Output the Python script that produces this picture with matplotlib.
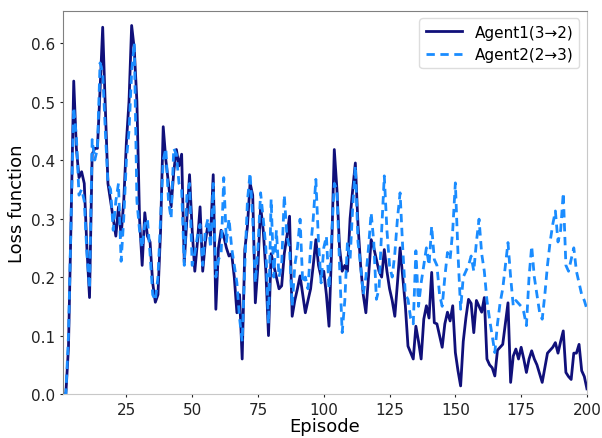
import matplotlib.pyplot as plt
import numpy as np

# Loss per episode
agent1 = [0.0, 0.0, 0.08, 0.30, 0.535, 0.42, 0.37, 0.38, 0.36, 0.25,
          0.165, 0.41, 0.42, 0.42, 0.52, 0.627, 0.49, 0.36, 0.33, 0.30,
          0.27, 0.32, 0.27, 0.33, 0.43, 0.50, 0.63, 0.59, 0.50, 0.30,
          0.22, 0.31, 0.27, 0.26, 0.19, 0.157, 0.17, 0.28, 0.457, 0.40,
          0.36, 0.32, 0.38, 0.418, 0.39, 0.41, 0.225, 0.30, 0.375, 0.28,
          0.21, 0.26, 0.32, 0.21, 0.26, 0.29, 0.27, 0.375, 0.145, 0.25,
          0.28, 0.27, 0.25, 0.236, 0.24, 0.20, 0.139, 0.17, 0.06, 0.247,
          0.287, 0.361, 0.34, 0.156, 0.22, 0.321, 0.28, 0.21, 0.10, 0.24,
          0.22, 0.20, 0.18, 0.185, 0.24, 0.27, 0.304, 0.133, 0.16, 0.18,
          0.202, 0.17, 0.139, 0.16, 0.18, 0.22, 0.264, 0.22, 0.20, 0.21,
          0.17, 0.116, 0.25, 0.418, 0.35, 0.25, 0.21, 0.22, 0.21, 0.30,
          0.35, 0.395, 0.29, 0.22, 0.17, 0.139, 0.20, 0.264, 0.25, 0.23,
          0.21, 0.20, 0.247, 0.21, 0.18, 0.16, 0.133, 0.19, 0.25, 0.20,
          0.151, 0.082, 0.071, 0.06, 0.116, 0.09, 0.06, 0.128, 0.151, 0.13,
          0.208, 0.122, 0.12, 0.10, 0.08, 0.12, 0.14, 0.125, 0.151, 0.071,
          0.04, 0.014, 0.09, 0.13, 0.162, 0.155, 0.105, 0.16, 0.15, 0.14,
          0.165, 0.06, 0.05, 0.045, 0.031, 0.075, 0.08, 0.085, 0.12, 0.156,
          0.02, 0.065, 0.077, 0.06, 0.08, 0.06, 0.037, 0.06, 0.074, 0.06,
          0.05, 0.035, 0.02, 0.045, 0.07, 0.075, 0.08, 0.088, 0.07, 0.09,
          0.108, 0.037, 0.03, 0.025, 0.07, 0.07, 0.085, 0.04, 0.03, 0.009]

agent2 = [0.0, 0.0, 0.10, 0.30, 0.49, 0.44, 0.34, 0.35, 0.33, 0.24,
          0.18, 0.435, 0.40, 0.42, 0.566, 0.55, 0.45, 0.36, 0.35, 0.28,
          0.33, 0.36, 0.227, 0.30, 0.40, 0.45, 0.55, 0.60, 0.33, 0.28,
          0.25, 0.29, 0.30, 0.24, 0.17, 0.16, 0.20, 0.30, 0.40, 0.42,
          0.33, 0.30, 0.42, 0.41, 0.36, 0.35, 0.22, 0.34, 0.36, 0.22,
          0.24, 0.27, 0.29, 0.22, 0.28, 0.30, 0.25, 0.36, 0.20, 0.23,
          0.24, 0.37, 0.26, 0.30, 0.25, 0.22, 0.19, 0.13, 0.09, 0.22,
          0.33, 0.378, 0.30, 0.19, 0.25, 0.344, 0.30, 0.25, 0.12, 0.333,
          0.20, 0.28, 0.20, 0.22, 0.34, 0.27, 0.25, 0.15, 0.22, 0.25,
          0.299, 0.19, 0.20, 0.18, 0.25, 0.30, 0.367, 0.26, 0.19, 0.25,
          0.27, 0.18, 0.27, 0.36, 0.35, 0.22, 0.105, 0.16, 0.26, 0.23,
          0.32, 0.39, 0.26, 0.22, 0.17, 0.20, 0.25, 0.31, 0.26, 0.162,
          0.18, 0.28, 0.373, 0.28, 0.22, 0.20, 0.24, 0.30, 0.344, 0.25,
          0.17, 0.162, 0.13, 0.12, 0.245, 0.15, 0.19, 0.22, 0.25, 0.22,
          0.287, 0.23, 0.22, 0.17, 0.15, 0.20, 0.242, 0.23, 0.28, 0.361,
          0.24, 0.145, 0.20, 0.21, 0.22, 0.236, 0.21, 0.26, 0.299, 0.24,
          0.21, 0.16, 0.128, 0.10, 0.071, 0.12, 0.156, 0.18, 0.22, 0.259,
          0.20, 0.151, 0.16, 0.155, 0.15, 0.14, 0.117, 0.20, 0.253, 0.20,
          0.17, 0.14, 0.128, 0.17, 0.22, 0.26, 0.29, 0.313, 0.26, 0.28,
          0.344, 0.22, 0.21, 0.23, 0.25, 0.21, 0.19, 0.17, 0.16, 0.145]

episodes = np.arange(1, len(agent1) + 1)

fig = plt.figure(figsize=(6.02, 4.39), dpi=100)
ax = fig.add_axes([0.105, 0.100, 0.870, 0.873])

ax.plot(episodes, agent1, color='#10107a', linewidth=2.0, label='Agent1(3→2)')
ax.plot(episodes, agent2, color='#1a8cff', linewidth=2.0, linestyle='--',
        dashes=(3, 2), label='Agent2(2→3)')

ax.set_xlim(1, 200)
ax.set_ylim(0, 0.655)
ax.set_xticks([25, 50, 75, 100, 125, 150, 175, 200])
ax.set_yticks([0.0, 0.1, 0.2, 0.3, 0.4, 0.5, 0.6])
ax.tick_params(labelsize=11, length=2, colors='#222222')

ax.set_xlabel('Episode', fontsize=13, labelpad=0)
ax.set_ylabel('Loss function', fontsize=13, labelpad=4)

for side in ['top', 'left']:
    ax.spines[side].set_color('#808080')
for side in ['right', 'bottom']:
    ax.spines[side].set_color('#c8c8c8')

ax.legend(loc='upper right', fontsize=11, handlelength=2.4, framealpha=1, edgecolor='#dddddd')

fig.savefig('out.png', dpi=100)
